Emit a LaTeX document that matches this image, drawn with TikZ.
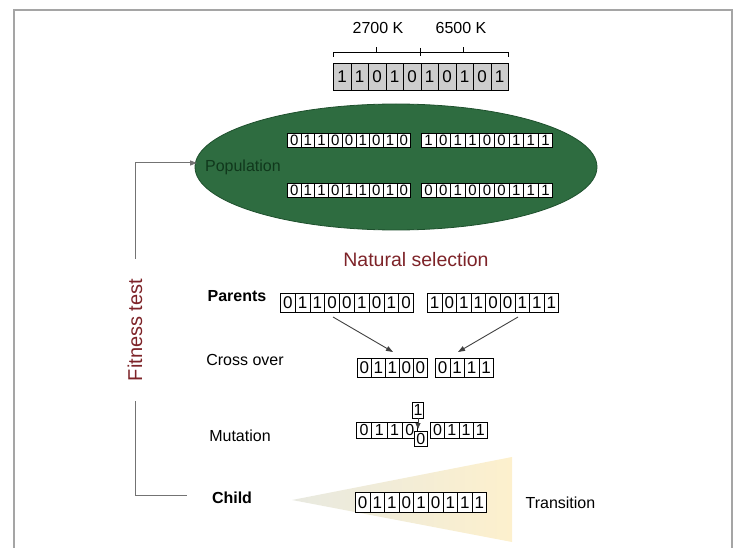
\documentclass[tikz,border=0pt]{standalone}
\usepackage{fontspec}
\setmainfont{Liberation Sans}
\usetikzlibrary{positioning,shapes.geometric,arrows.meta}

\definecolor{popgreen}{RGB}{46,108,64}
\definecolor{popdark}{RGB}{30,80,45}
\definecolor{poptext}{RGB}{16,56,28}
\definecolor{selred}{RGB}{125,35,40}
\definecolor{framegray}{RGB}{165,165,165}
\definecolor{reggray}{RGB}{205,205,205}
\definecolor{wedgeleft}{RGB}{232,233,224}
\definecolor{wedgeright}{RGB}{253,240,205}

% style, name, x, y, cell width, cell height, bits
\newcommand\genes[7][]{%
  \foreach \b [count=\i] in {#7}
    \node[gene, #1, minimum width=#5pt, minimum height=#6pt, anchor=north west]
      (#2-\i) at ({#3+(\i-1)*#5},#4) {\b};
}

\begin{document}
\begin{tikzpicture}[x=1pt,y=-1pt,
gene/.style={draw=black, fill=white, line width=0.7pt, inner sep=0pt, font=\fontsize{15}{15}\selectfont},
regcell/.style={fill=reggray, font=\fontsize{17}{17}\selectfont},
bigbits/.style={font=\fontsize{17}{17}\selectfont},
txt/.style={font=\fontsize{16}{16}\selectfont},
boldtxt/.style={font=\fontsize{16}{16}\selectfont\bfseries},
flow/.style={draw=black!75, line width=0.9pt, -{Triangle[length=7pt,width=5pt]}},
loopline/.style={draw=black!55, line width=1pt},
]
\useasboundingbox (0,0) rectangle (739,548);
\draw[framegray, line width=2pt] (14,548) -- (14,10) -- (732,10) -- (732,548);

%Register
\node[txt] (lowk) at (378,28) {2700 K};
\node[txt] (highk) at (461,28) {6500 K};
\draw[line width=0.8pt] (333,57) -- (333,52) -- (508,52) -- (508,57);
\draw[line width=0.8pt] (420,48) -- (420,56);
\draw[line width=0.8pt] (376,52) -- (376,47);
\draw[line width=0.8pt] (463,52) -- (463,47);
\genes[regcell]{reg}{333}{63}{17.5}{27}{1,1,0,1,0,1,0,1,0,1}

%Population
\node[ellipse, fill=popgreen, draw=popdark, line width=0.8pt,
      minimum width=402pt, minimum height=126pt] (pop) at (396,167) {};
\node[txt, text=poptext, right=7pt of pop.west] (poplabel) {Population};
\genes{popa}{287}{133}{13.7}{14}{0,1,1,0,0,1,0,1,0}
\genes{popb}{421}{133}{14.6}{14}{1,0,1,1,0,0,1,1,1}
\genes{popc}{287}{183}{13.7}{14}{0,1,1,0,1,1,0,1,0}
\genes{popd}{421}{183}{14.6}{14}{0,0,1,0,0,0,1,1,1}

\node[text=selred, font=\fontsize{19.5}{19.5}\selectfont] (natsel) at (416,260) {Natural selection};

%Parents
\node[boldtxt] (parents) at (237,296) {Parents};
\genes[bigbits]{para}{280}{293}{14.8}{19}{0,1,1,0,0,1,0,1,0}
\genes[bigbits]{parb}{427}{293}{14.6}{19}{1,0,1,1,0,0,1,1,1}

%Cross over
\node[txt] (cross) at (245,360) {Cross over};
\genes[bigbits]{crsa}{357}{358}{14}{19}{0,1,1,0,0}
\genes[bigbits]{crsb}{435}{358}{14.5}{19}{0,1,1,1}

\coordinate (xa) at (333,317);
\coordinate (xb) at (393,352);
\coordinate (xc) at (518,317);
\coordinate (xd) at (458,352);
\draw[flow] (xa) -- (xb);
\draw[flow] (xc) -- (xd);

%Mutation
\node[txt] (mutation) at (240,436) {Mutation};
\genes[font=\fontsize{16}{16}\selectfont]{muta}{356}{422}{15.25}{16}{0,1,1,0}
\genes[font=\fontsize{16}{16}\selectfont]{mutb}{430}{422}{14.25}{16}{0,1,1,1}
\node[gene, font=\fontsize{16}{16}\selectfont, minimum width=13pt, minimum height=15pt,
      anchor=north west] (mutzero) at (414,431) {0};
\node[gene, font=\fontsize{16}{16}\selectfont, minimum width=11pt, minimum height=16pt] (mutone) at (418,410) {1};
\coordinate (muttip) at (418,429);
\draw[flow, line width=0.8pt, -{Triangle[length=6pt,width=5pt]}] (mutone.south) -- (muttip);

%Child
\shade[left color=wedgeleft, right color=wedgeright] (292,500) -- (512,457) -- (512,542) -- cycle;
\node[boldtxt] (child) at (232,498) {Child};
\genes[bigbits]{chld}{355}{492}{14.6}{20}{0,1,1,0,1,0,1,1,1}
\node[txt, right=35pt of chld-9] (transition) {Transition};

%Fitness loop
\node[rotate=90, text=selred, font=\fontsize{20}{20}\selectfont, inner xsep=20pt, inner ysep=0pt] (fit) at (135,330) {Fitness test};
\coordinate (popin) at (197,163);
\coordinate (childin) at (187,495);
\draw[loopline, -{Triangle[length=7pt,width=5pt]}] (fit.east) |- (popin);
\draw[loopline] (fit.west) |- (childin);

\end{tikzpicture}
\end{document}
